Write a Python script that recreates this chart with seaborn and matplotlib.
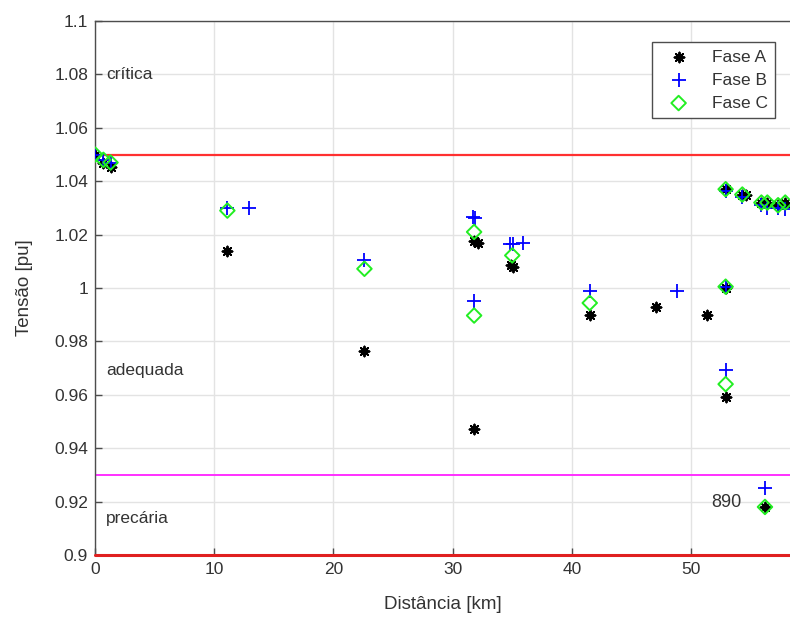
import matplotlib
matplotlib.use("Agg")
import matplotlib.pyplot as plt
import seaborn as sns
import pandas as pd

# ---------------- data ----------------
fase_a_x = [0.0, 0.7, 1.3, 11.1, 22.6, 31.8, 32.1, 31.8, 34.9, 35.1, 41.5, 47.1, 51.3,
            52.9, 52.9, 52.9, 54.3, 54.6, 55.9, 56.4, 57.3, 57.9, 56.2]
fase_a_y = [1.050, 1.047, 1.0455, 1.014, 0.9765, 1.0175, 1.017, 0.9472, 1.0086, 1.008, 0.990,
            0.993, 0.990, 1.037, 1.000, 0.9592, 1.035, 1.035, 1.032, 1.032, 1.031, 1.032, 0.918]

fase_b_x = [0.0, 0.7, 1.3, 11.1, 12.9, 22.6, 31.7, 31.9, 31.8, 34.8, 35.1, 35.9, 41.5, 48.8,
            52.9, 52.9, 52.9, 54.3, 55.9, 56.4, 57.3, 57.9, 56.2]
fase_b_y = [1.050, 1.048, 1.047, 1.030, 1.030, 1.0105, 1.0265, 1.0262, 0.9953, 1.0165, 1.0165,
            1.0168, 0.999, 0.9988, 1.0365, 1.0005, 0.9693, 1.034, 1.031, 1.030, 1.030, 1.0295, 0.925]

fase_c_x = [0.0, 0.7, 1.3, 11.1, 22.6, 31.8, 31.8, 35.0, 41.5, 52.9, 52.9, 52.9, 54.3, 55.9,
            56.4, 57.3, 57.9, 56.2]
fase_c_y = [1.050, 1.048, 1.047, 1.029, 1.0072, 1.021, 0.9897, 1.0122, 0.9944, 1.037, 1.0005,
            0.964, 1.035, 1.032, 1.032, 1.031, 1.032, 0.918]

x_ticks = [0, 10, 20, 30, 40, 50]
y_ticks = [0.9, 0.92, 0.94, 0.96, 0.98, 1.0, 1.02, 1.04, 1.06, 1.08, 1.1]
y_tick_labels = ["0.9", "0.92", "0.94", "0.96", "0.98", "1", "1.02", "1.04", "1.06", "1.08", "1.1"]

limite_critico = 1.05
limite_precario = 0.93
limite_inferior = 0.90

regioes = ["crítica", "adequada", "precária"]
regioes_y = [1.08, 0.969, 0.9135]
rotulo_890 = "890"

# ---------------- style ----------------
sns.set_theme(style="whitegrid")
plt.rcParams["font.family"] = ["Liberation Sans", "DejaVu Sans"]
txt_color = "#333333"

fig = plt.figure(figsize=(7.9, 6.22), dpi=100)
ax = fig.add_axes([0.1203, 0.1077, 0.8797, 0.8585])
ax.set_facecolor("white")

df_a = pd.DataFrame({"x": fase_a_x, "y": fase_a_y})
df_b = pd.DataFrame({"x": fase_b_x, "y": fase_b_y})
df_c = pd.DataFrame({"x": fase_c_x, "y": fase_c_y})

ax.axhline(limite_critico, color="#ff3030", lw=1.6, zorder=2)
ax.axhline(limite_precario, color="#ff30ff", lw=1.4, zorder=2)
ax.axhline(limite_inferior, color="#e02020", lw=2.2, zorder=4, clip_on=False)

sns.scatterplot(data=df_a, x="x", y="y", marker=(8, 2, 0), s=50, color="black",
                linewidth=1.4, ax=ax, zorder=5, label="Fase A")
sns.scatterplot(data=df_b, x="x", y="y", marker="+", s=100, color="#0000ff",
                linewidth=1.3, ax=ax, zorder=6, label="Fase B")
sns.scatterplot(data=df_c, x="x", y="y", marker="D", s=55, color="#22ee22",
                linewidth=1.4, ax=ax, zorder=7, label="Fase C")
coll_c = ax.collections[-1]
coll_c.set_facecolor("none")
coll_c.set_edgecolor("#22ee22")

for lab, yy in zip(regioes, regioes_y):
    ax.text(0.9, yy, lab, fontsize=12.5, color=txt_color, va="center", ha="left")
ax.text(51.7, 0.9198, rotulo_890, fontsize=13, color=txt_color, va="center", ha="left")

ax.set_xlim(0, 58.3)
ax.set_ylim(0.9, 1.1)
ax.set_xticks(x_ticks)
ax.set_yticks(y_ticks)
ax.set_yticklabels(y_tick_labels)
ax.tick_params(axis="both", direction="in", length=5, width=1, colors="#4d4d4d",
               labelsize=12.5, labelcolor=txt_color, pad=5, left=True, bottom=True)
ax.grid(True, color="#e3e3e3", lw=1)
for s in ["left", "bottom", "top", "right"]:
    ax.spines[s].set_color("#4d4d4d")
    ax.spines[s].set_linewidth(1.0)
ax.spines["right"].set_visible(False)

ax.set_xlabel("Distância [km]", fontsize=13.5, color=txt_color, labelpad=14)
ax.set_ylabel("Tensão [pu]", fontsize=13.5, color=txt_color, labelpad=15)

leg = ax.legend(loc="upper right", bbox_to_anchor=(0.9915, 0.9775), fontsize=12.5,
                frameon=True, fancybox=False, edgecolor="#4d4d4d", framealpha=1,
                borderpad=0.45, handletextpad=0.8, labelspacing=0.45, handlelength=2.2)
leg.get_frame().set_linewidth(1.0)
for t in leg.get_texts():
    t.set_color(txt_color)

fig.savefig("out.png", dpi=100)
